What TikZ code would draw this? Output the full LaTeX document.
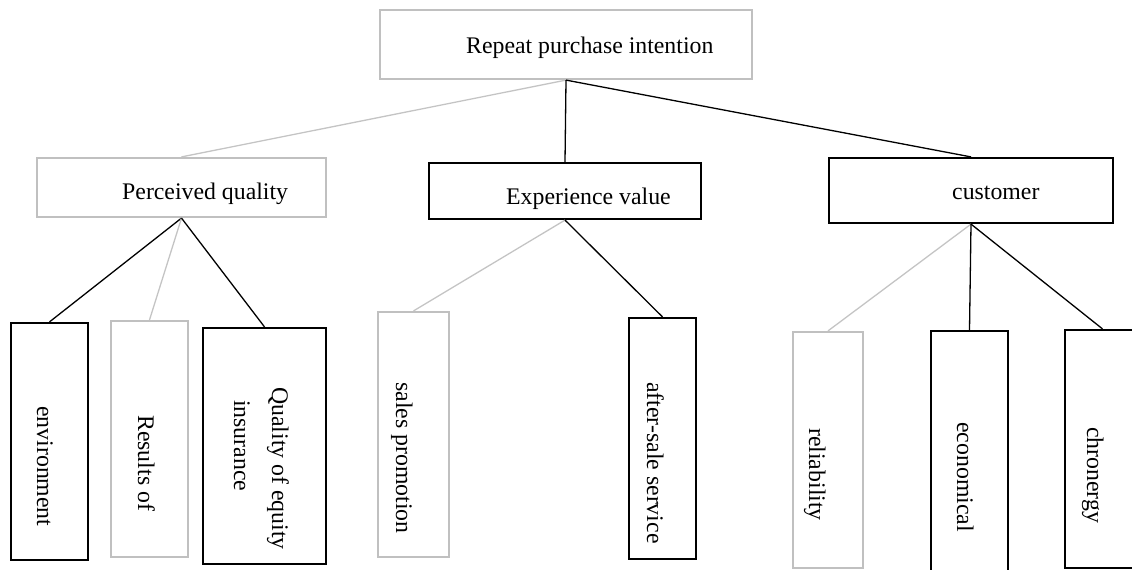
\documentclass[tikz,border=0pt]{standalone}
\usepackage{fontspec}
\setmainfont{Liberation Serif}
\definecolor{boxgrey}{RGB}{192,192,192}
\definecolor{linegrey}{RGB}{196,196,196}
\tikzset{
  bx/.style={draw=black, line width=2.2pt, inner sep=0pt, rectangle},
  gx/.style={draw=boxgrey, line width=2.2pt, inner sep=0pt, rectangle},
  blink/.style={draw=black, line width=1.3pt},
  glink/.style={draw=linegrey, line width=1.3pt},
  txt/.style={inner sep=0pt, font=\fontsize{23.8}{28}\selectfont, anchor=base west},
  vtxt/.style={txt, rotate=-90},
}
\begin{document}
\begin{tikzpicture}[x=1pt, y=-1pt]
\useasboundingbox (0,0) rectangle (1132,570);
% level 0
\node[gx, minimum width=372pt, minimum height=69pt] (root) at (566,44.5) {};
% level 1
\node[gx, minimum width=289pt, minimum height=59pt] (pq) at (181.5,187.5) {};
\node[bx, minimum width=272pt, minimum height=56pt] (ev) at (565,191) {};
\node[bx, minimum width=284pt, minimum height=65pt] (cu) at (971,190.5) {};
% level 2
\node[bx, minimum width=77pt, minimum height=237pt] (env) at (49.5,441.5) {};
\node[gx, minimum width=77pt, minimum height=236pt] (res) at (149.5,439) {};
\node[bx, minimum width=123pt, minimum height=236pt] (qoe) at (264.5,446) {};
\node[gx, minimum width=71pt, minimum height=245pt] (sal) at (413.5,434.5) {};
\node[bx, minimum width=67pt, minimum height=241pt] (aft) at (662.5,438.5) {};
\node[gx, minimum width=70pt, minimum height=236pt] (rel) at (828,450) {};
\node[bx, minimum width=77pt, minimum height=245pt] (eco) at (969.5,453.5) {};
\node[bx, minimum width=75pt, minimum height=238pt] (chr) at (1102.5,449) {};
% texts
\node[txt] (root-t) at (466,53) {Repeat purchase intention};
\node[txt] (pq-t) at (122,199) {Perceived quality};
\node[txt] (ev-t) at (506,204) {Experience value};
\node[txt] (cu-t) at (952,199) {customer};
\node[vtxt] (env-t) at (37,406) {environment};
\node[vtxt] (res-t) at (138,415) {Results of};
\node[vtxt] (qoe-t1) at (272,387) {Quality of equity};
\node[vtxt] (qoe-t2) at (234,400) {insurance};
\node[vtxt] (sal-t) at (396,382) {sales promotion};
\node[vtxt] (aft-t) at (647,382) {after-sale service};
\node[vtxt] (rel-t) at (809,428) {reliability};
\node[vtxt] (eco-t) at (957,422) {economical};
\node[vtxt] (chr-t) at (1087,427) {chronergy};
% connectors
\draw[glink] (root.south) -- (pq.north);
\draw[blink] (root.south) -- (ev.north);
\draw[blink] (root.south) -- (cu.north);
\draw[blink] (pq.south) -- (env.north);
\draw[glink] (pq.south) -- (res.north);
\draw[blink] (pq.south) -- (qoe.north);
\draw[glink] (ev.south) -- (sal.north);
\draw[blink] (ev.south) -- (aft.north);
\draw[glink] (cu.south) -- (rel.north);
\draw[blink] (cu.south) -- (eco.north);
\draw[blink] (cu.south) -- (chr.north);
\end{tikzpicture}
\end{document}
